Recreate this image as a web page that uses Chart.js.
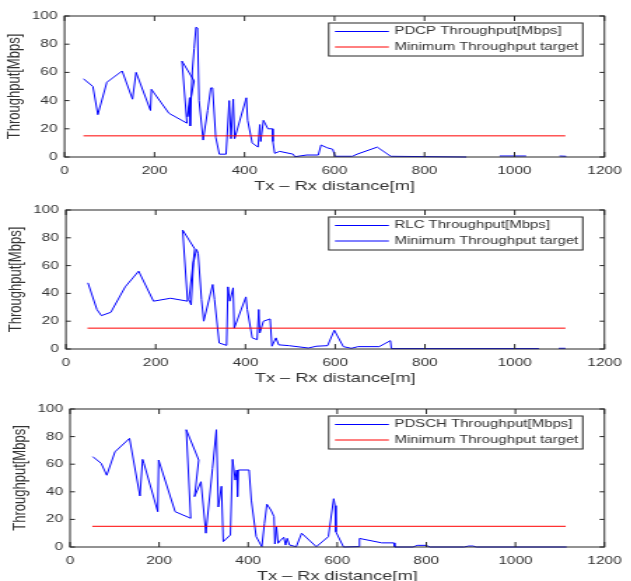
<!DOCTYPE html>
<html>
<head>
<meta charset="utf-8">
<script src="https://cdn.jsdelivr.net/npm/chart.js@4.4.1/dist/chart.umd.min.js"></script>
<style>
  html, body { margin: 0; background: #fff; width: 631px; height: 581px; overflow: hidden; }
  /* panels are laid out narrow and stretched sideways */
  .panel { position: absolute; left: 0; width: 451px; transform: scaleX(1.4); transform-origin: 0 0; }
</style>
</head>
<body>
<div class="panel" style="top:0px;height:197px"><canvas id="pdcp"></canvas></div>
<div class="panel" style="top:195px;height:194px"><canvas id="rlc"></canvas></div>
<div class="panel" style="top:392px;height:195px"><canvas id="pdsch"></canvas></div>
<script>
// distance [m] and throughput [Mbps]; null breaks the line
const pdcpX = [42, 63, 74, 94, 128, 151, 159, 191, 193, 232, 272, 261, 288, 273, 278, 279, 284, 288, 292, 295.5,
  299, 308, 318, 325, 329, 336, 344, 359, 366, 370, 375, 378, 404, 407, 417, 430, 434, 436, 442, 452,
  462, 463, 467, 478, 508, 512, 538, 564, 570, 584, 596, 601, 640, 650, 695, 725, 893, 930, 967, 1026,
  1060, 1100, 1115];
const pdcpY = [55.5, 50, 30, 53, 61, 41, 60, 33, 48, 31, 24, 68, 54, 28.5, 42, 22, 61, 77, 92, 91.5,
  40, 12, 33, 49, 49, 14, 2, 2, 40, 13, 41, 13, 42, 26, 10, 7, 23, 11, 26, 20,
  20, 11, 2.6, 4, 2, 0.2, 1.4, 1.4, 8.5, 6.5, 5.5, 0.5, 0.5, 2, 7, 0.5, 0, null, 0.7, 0.7,
  null, 0.7, 0.5];

const rlcX = [49, 69, 79, 100, 132, 162, 195, 233, 271, 260, 287, 274, 279, 284, 291, 294.6, 302, 307, 327, 331,
  341.5, 358, 361, 365, 372.6, 375, 401, 404, 415, 426, 429.6, 432, 440, 455, 459, 468, 474, 497, 540, 558,
  583, 598, 618, 636, 651, 698, 723, 725, 1054, 1076, 1098, 1113];
const rlcY = [47.6, 28.4, 24, 26.4, 44.7, 56, 34.4, 36.5, 34.4, 85.6, 72, 35.6, 31.7, 62, 71.6, 68.8, 35.6, 20, 46.4, 35.6,
  4.3, 2.6, 44.7, 34.4, 44, 15, 37.5, 28.4, 8, 6.7, 28.4, 11.5, 20, 21.6, 2, 8, 3, 2.4, 0.7, 2,
  2.4, 13.5, 1.7, 0.5, 1.7, 1.7, 6, 0.3, 0.3, null, 0.5, 0.5];

const pdschX = [51, 70, 82.5, 101, 133.6, 157, 163, 166, 197, 199, 236, 271, 261, 289, 279.6, 294, 305, 320, 328.5, 333,
  340, 344, 360, 365, 371, 374.5, 376, 378, 402, 407, 418, 430.7, 436.5, 442, 451, 458, 460, 463.5, 467, 473,
  480, 484, 487.6, 493, 508, 520, 553, 580, 592, 595, 597, 614, 648, 650, 700, 727, 729, 770, 780, 800,
  808, 885, 895, 905, 912, 1115];
const pdschY = [65.5, 60.6, 52, 69, 78.7, 37, 63.5, 60.6, 25.6, 63, 25.6, 20.8, 85, 63, 36.5, 47.3, 10, 57, 85, 29,
  44, 3.9, 8.7, 63.5, 48.5, 55.8, 36.5, 55.8, 55.8, 34, 7.5, 0.2, 17, 31, 26.8, 22, 2.2, 14.7, 2.7, 5,
  7, 1.4, 6.3, 1.4, 0.2, 10, 0.2, 7.5, 35, 30, 11, 0, 0.3, 6.2, 3, 3, 0, 0, 1.2, 1.2,
  0, 0, 0.7, 0.7, 0, 0];

// minimum throughput target, start and end distance per plot
const targetLevel = 15;
const pdcpTargetX = [42, 1113];
const rlcTargetX = [48, 1113];
const pdschTargetX = [50, 1113];

const xTicks = [0, 200, 400, 600, 800, 1000, 1200];
const yTicks = [0, 20, 40, 60, 80, 100];

const axisColor = '#262626';
const textColor = '#333';
const fontFamily = "'Liberation Sans', Arial, Helvetica, sans-serif";

function toPoints(xs, ys) {
  return xs.map((x, i) => ({ x: x, y: ys[i] }));
}

// MATLAB style box with inward ticks on all four sides
const boxPlugin = {
  id: 'box',
  afterDatasetsDraw(chart) {
    const { ctx, chartArea: a, scales } = chart;
    ctx.save();
    ctx.strokeStyle = axisColor;
    ctx.lineWidth = 1;
    ctx.beginPath();
    scales.x.ticks.forEach(t => {
      const px = scales.x.getPixelForValue(t.value);
      ctx.moveTo(px, a.bottom); ctx.lineTo(px, a.bottom - 5);
      ctx.moveTo(px, a.top); ctx.lineTo(px, a.top + 5);
    });
    scales.y.ticks.forEach(t => {
      const py = scales.y.getPixelForValue(t.value);
      ctx.moveTo(a.left, py); ctx.lineTo(a.left + 3.5, py);
      ctx.moveTo(a.right, py); ctx.lineTo(a.right - 3.5, py);
    });
    ctx.stroke();
    ctx.strokeRect(a.left, a.top, a.right - a.left, a.bottom - a.top);
    ctx.restore();
  }
};

// legend box in the top right corner of the plot
const boxLegend = {
  id: 'boxLegend',
  afterDraw(chart, args, opts) {
    const { ctx, chartArea: a } = chart;
    const w = 181.5, h = 33;
    const bx = a.right - 15.5 - w, by = a.top + 7;
    ctx.save();
    ctx.fillStyle = '#fff';
    ctx.fillRect(bx, by, w, h);
    ctx.strokeStyle = axisColor;
    ctx.lineWidth = 1;
    ctx.strokeRect(bx, by, w, h);
    ctx.font = '10.7px ' + fontFamily;
    ctx.textBaseline = 'middle';
    opts.items.forEach((it, i) => {
      const ry = by + 8.5 + i * 15.5;
      ctx.strokeStyle = it.color;
      ctx.beginPath();
      ctx.moveTo(bx + 4.5, ry); ctx.lineTo(bx + 43, ry);
      ctx.stroke();
      ctx.fillStyle = textColor;
      ctx.fillText(it.text, bx + 47, ry);
    });
    ctx.restore();
  }
};

function makePlot(id, xs, ys, targetX, legendItems, pad) {
  new Chart(document.getElementById(id), {
    type: 'line',
    data: {
      datasets: [
        {
          data: toPoints(targetX, targetX.map(() => targetLevel)),
          borderColor: '#ff0000', borderWidth: 1, pointRadius: 0, order: 0, clip: 4
        },
        {
          data: toPoints(xs, ys),
          borderColor: '#0000ff', borderWidth: 1, pointRadius: 0, tension: 0, order: 1, clip: 4
        }
      ]
    },
    options: {
      responsive: true,
      maintainAspectRatio: false,
      animation: false,
      events: [],
      layout: { padding: { left: pad.left, top: pad.top, right: pad.right, bottom: 0 } },
      plugins: {
        legend: { display: false },
        tooltip: { enabled: false },
        boxLegend: { items: legendItems }
      },
      scales: {
        x: {
          type: 'linear', min: 0, max: 1200,
          afterBuildTicks: s => { s.ticks = xTicks.map(v => ({ value: v })); },
          afterFit: s => { s.height = 40; },
          grid: { display: false, drawTicks: false },
          border: { display: false },
          ticks: { color: textColor, font: { family: fontFamily, size: 11 }, padding: 7, maxRotation: 0,
            autoSkip: false, callback: v => String(v) },
          title: { display: true, text: 'Tx \u2013 Rx distance[m]', color: textColor,
            font: { family: fontFamily, size: 13 }, padding: { top: 0, bottom: 2.5 } }
        },
        y: {
          type: 'linear', min: 0, max: 100,
          afterBuildTicks: s => { s.ticks = yTicks.map(v => ({ value: v })); },
          afterFit: s => { s.width = 46; },
          grid: { display: false, drawTicks: false },
          border: { display: false },
          ticks: { color: textColor, font: { family: fontFamily, size: 11 }, padding: 5, callback: v => String(v) },
          title: { display: true, text: 'Throughput[Mbps]', color: textColor,
            font: { family: fontFamily, size: 13 }, padding: { top: 2.5, bottom: 0 } }
        }
      }
    },
    plugins: [boxPlugin, boxLegend]
  });
}

makePlot('pdcp', pdcpX, pdcpY, pdcpTargetX,
  [{ text: 'PDCP Throughput[Mbps]', color: '#0000ff' }, { text: 'Minimum Throughput target', color: '#ff0000' }],
  { left: 0.1, top: 16, right: 16 });
makePlot('rlc', rlcX, rlcY, rlcTargetX,
  [{ text: 'RLC Throughput[Mbps]', color: '#0000ff' }, { text: 'Minimum Throughput target', color: '#0000ff' }],
  { left: 1.1, top: 15, right: 15.3 });
makePlot('pdsch', pdschX, pdschY, pdschTargetX,
  [{ text: 'PDSCH Throughput[Mbps]', color: '#0000ff' }, { text: 'Minimum Throughput target', color: '#ff0000' }],
  { left: 4, top: 17, right: 15.3 });
</script>
</body>
</html>
